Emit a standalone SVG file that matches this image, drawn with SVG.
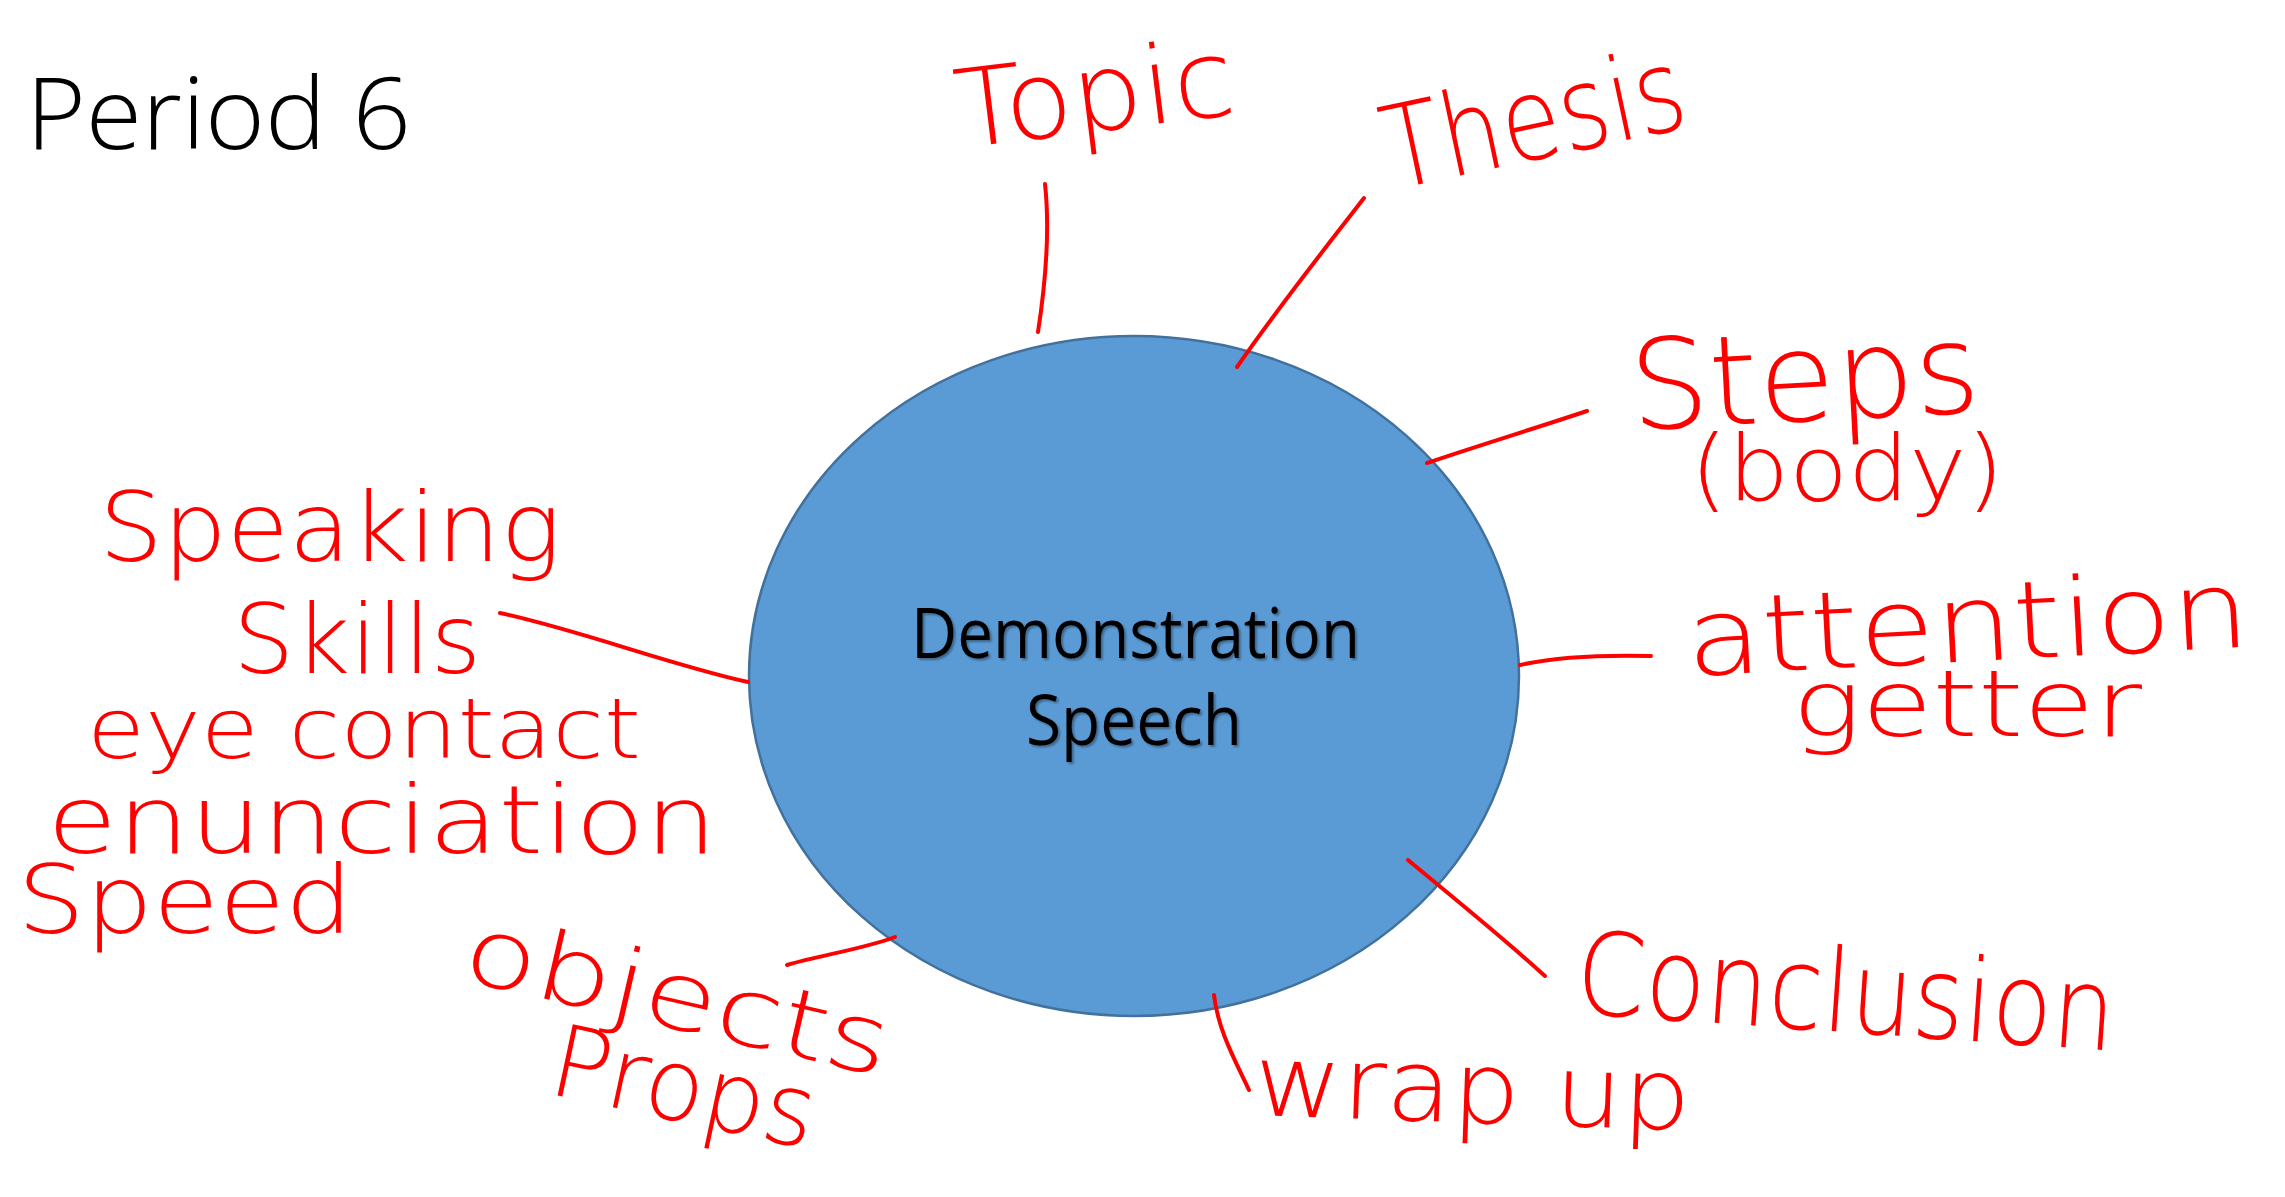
<svg xmlns="http://www.w3.org/2000/svg" width="2285" height="1197" viewBox="0 0 2285 1197">
<defs>
<filter id="sh" x="-10%" y="-30%" width="120%" height="160%">
<feDropShadow dx="2" dy="2" stdDeviation="1.2" flood-color="#000" flood-opacity="0.35"/>
</filter>
<style>
.hw{fill:#FF0000;font-family:"DejaVu Sans","Liberation Sans",sans-serif;font-weight:200}
.ln{fill:none;stroke:#FF0000;stroke-width:4;stroke-linecap:round;stroke-linejoin:round}
.ct{fill:#000;font-family:"Open Sans","Liberation Sans",sans-serif;font-size:70px}
</style>
</defs>
<rect width="2285" height="1197" fill="#FFFFFF"/>
<g id="title">
<text x="26" y="149" font-family="Open Sans, Liberation Sans, sans-serif" font-weight="300" font-size="100" fill="#000" textLength="385" lengthAdjust="spacingAndGlyphs">Period 6</text>
</g>
<g id="center">
<ellipse cx="1134" cy="676" rx="385" ry="340" fill="#5B9BD5" stroke="#41719C" stroke-width="2.5"/>
<text class="ct" x="911" y="658" textLength="449" lengthAdjust="spacingAndGlyphs" filter="url(#sh)">Demonstration</text>
<text class="ct" x="1026" y="745" textLength="216" lengthAdjust="spacingAndGlyphs" filter="url(#sh)">Speech</text>
</g>
<g id="connectors">
<path class="ln" d="M1045,184 C1050,230 1046,280 1038,332"/>
<path class="ln" d="M1364,198 C1320,255 1280,305 1237,367"/>
<path class="ln" d="M1587,411 C1530,430 1480,445 1427,463"/>
<path class="ln" d="M1651,656 C1610,655 1560,656 1520,665"/>
<path class="ln" d="M1408,860 C1450,895 1500,935 1545,976"/>
<path class="ln" d="M1214,995 C1218,1030 1235,1060 1249,1090"/>
<path class="ln" d="M895,937 C860,950 820,955 787,965"/>
<path class="ln" d="M500,613 C580,630 670,665 748,682"/>
</g>
<g id="topic"><text class="hw" x="960" y="148" font-size="108" textLength="280" lengthAdjust="spacingAndGlyphs" transform="rotate(-7 960 148)">Topic</text></g>
<g id="thesis"><text class="hw" x="1392" y="190" font-size="115" textLength="306" lengthAdjust="spacingAndGlyphs" transform="rotate(-12 1392 190)">Thesis</text></g>
<g id="steps"><text class="hw" x="1632" y="430" font-size="125" textLength="350" lengthAdjust="spacingAndGlyphs" transform="rotate(-3 1632 430)">Steps</text>
<text class="hw" x="1690" y="500" font-size="90" textLength="314" lengthAdjust="spacingAndGlyphs">(body)</text></g>
<g id="attention"><text class="hw" x="1688" y="676" font-size="108" textLength="564" lengthAdjust="spacingAndGlyphs" transform="rotate(-3 1688 676)">attention</text>
<text class="hw" x="1792" y="736" font-size="92" textLength="350" lengthAdjust="spacingAndGlyphs">getter</text></g>
<g id="conclusion"><text class="hw" x="1574" y="1013" font-size="115" textLength="540" lengthAdjust="spacingAndGlyphs" transform="rotate(4 1574 1013)">Conclusion</text></g>
<g id="wrapup"><text class="hw" x="1253" y="1115" font-size="100" textLength="437" lengthAdjust="spacingAndGlyphs" transform="rotate(2 1253 1115)">wrap up</text></g>
<g id="objects"><text class="hw" x="459" y="979" font-size="95" textLength="434" lengthAdjust="spacingAndGlyphs" transform="rotate(13 459 979)">objects</text>
<text class="hw" x="546" y="1093" font-size="100" textLength="268" lengthAdjust="spacingAndGlyphs" transform="rotate(12 546 1093)">Props</text></g>
<g id="speaking"><text class="hw" x="99" y="561" font-size="96" textLength="462" lengthAdjust="spacingAndGlyphs">Speaking</text>
<text class="hw" x="233" y="673" font-size="96" textLength="248" lengthAdjust="spacingAndGlyphs">Skills</text>
<text class="hw" x="87" y="758" font-size="84" textLength="554" lengthAdjust="spacingAndGlyphs">eye contact</text>
<text class="hw" x="47" y="853" font-size="94" textLength="670" lengthAdjust="spacingAndGlyphs">enunciation</text>
<text class="hw" x="17" y="933" font-size="94" textLength="336" lengthAdjust="spacingAndGlyphs">Speed</text></g>
</svg>
